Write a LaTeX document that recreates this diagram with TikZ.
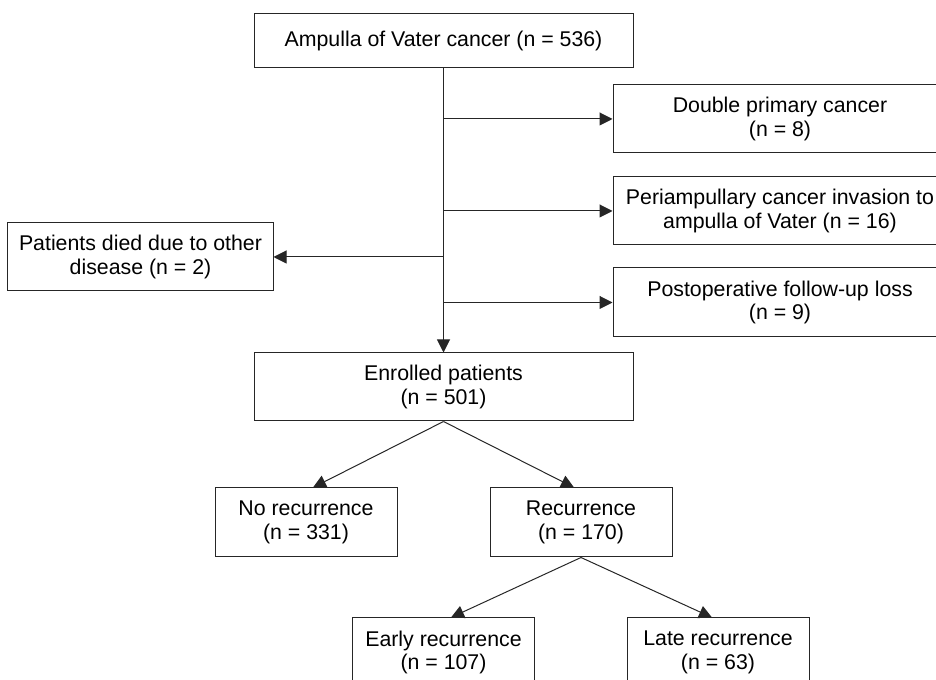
\documentclass[tikz,border=0pt]{standalone}
\usepackage{fontspec}
\setmainfont{Liberation Sans}
\usetikzlibrary{arrows.meta,calc}

\begin{document}
\begin{tikzpicture}[x=1bp,y=1bp,
	box/.style={draw=black!85,line width=1bp,align=center,inner sep=0pt,font=\fontsize{21.4}{24}\selectfont},
	wide/.style={box,minimum width=379bp,minimum height=68bp},
	side/.style={box,minimum width=334bp,minimum height=68bp},
	leaf/.style={box,minimum width=182bp,minimum height=69bp},
	arr/.style={draw=black!85,line width=1bp,-{Triangle[length=13bp,width=13bp]}}]
	\useasboundingbox (0,0) rectangle (936,680);
	\node[wide,minimum height=54bp] (src) at (443.5,639) {Ampulla of Vater cancer (n = 536)};
	\node[side] (dbl) at (780,561) {Double primary cancer\\(n = 8)};
	\node[side] (peri) at (780,469) {Periampullary cancer invasion to\\ampulla of Vater (n = 16)};
	\node[box,minimum width=265bp,minimum height=68bp] (died) at (140.5,423) {Patients died due to other\\disease (n = 2)};
	\node[side,minimum height=69bp] (loss) at (780,377.5) {Postoperative follow-up loss\\(n = 9)};
	\node[wide] (enr) at (443.5,293) {Enrolled patients\\(n = 501)};
	\node[leaf] (norec) at (306,157.5) {No recurrence\\(n = 331)};
	\node[leaf] (rec) at (581,157.5) {Recurrence\\(n = 170)};
	\node[leaf] (early) at (443.5,27.5) {Early recurrence\\(n = 107)};
	\node[leaf] (late) at (718,27.5) {Late recurrence\\(n = 63)};

	\draw[arr] (src.south) -- (enr.north);
	\draw[arr] (src.south |- dbl.west) -- (dbl.west);
	\draw[arr] (src.south |- peri.west) -- (peri.west);
	\draw[arr] (src.south |- died.east) -- (died.east);
	\draw[arr] (src.south |- loss.west) -- (loss.west);
	\draw[arr] (enr.south) -- ($(norec.north)+(7,0)$);
	\draw[arr] (enr.south) -- ($(rec.north)+(-7,0)$);
	\draw[arr] (rec.south) -- ($(early.north)+(7.5,0)$);
	\draw[arr] (rec.south) -- ($(late.north)+(-6,0)$);
\end{tikzpicture}
\end{document}
